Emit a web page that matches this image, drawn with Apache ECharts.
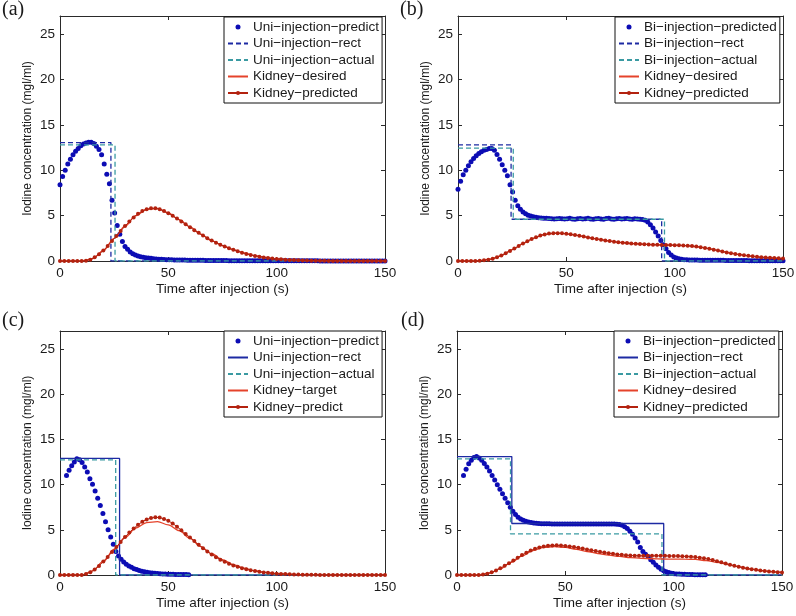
<!DOCTYPE html>
<html>
<head>
<meta charset="utf-8">
<script src="https://cdn.jsdelivr.net/npm/echarts@6/dist/echarts.min.js"></script>
<style>
html, body { margin: 0; padding: 0; background: #fff; }
#chart { width: 796px; height: 616px; }
</style>
</head>
<body>
<div id="chart"></div>
<script>
// ---- labels ----
var panelTags = ['(a)', '(b)', '(c)', '(d)'];
var predNames = ['Uni−injection−predict', 'Bi−injection−predicted', 'Uni−injection−predict', 'Bi−injection−predicted'];
var rectNames = ['Uni−injection−rect', 'Bi−injection−rect', 'Uni−injection−rect', 'Bi−injection−rect'];
var actNames = ['Uni−injection−actual', 'Bi−injection−actual', 'Uni−injection−actual', 'Bi−injection−actual'];
var desNames = ['Kidney−desired', 'Kidney−desired', 'Kidney−target', 'Kidney−desired'];
var kpNames = ['Kidney−predicted', 'Kidney−predicted', 'Kidney−predict', 'Kidney−predicted'];
var xName = 'Time after injection (s)';
var yName = 'Iodine concentration (mgl/ml)';
var xTicks = [0, 50, 100, 150];
var yTicks = [0, 5, 10, 15, 20, 25];

// ---- sampling (s) ----
var predStart = [0, 0, 3, 3];
var predStep = 1.2;
var kpStep = 2;
var desStep = 5;

// ---- injection predicted (blue dots) ----
var aPred = [8.4,9.3,10.0,10.7,11.2,11.7,12.1,12.4,12.7,12.9,
  13.0,13.1,13.1,12.95,12.65,12.3,11.7,10.7,9.55,8.5,
  6.7,5.3,3.9,2.95,2.15,1.6,1.3,1.0,0.8,0.67,
  0.56,0.48,0.42,0.37,0.33,0.29,0.25,0.22,0.2,0.18,
  0.16,0.15,0.14,0.13,0.12,0.12,0.11,0.1,0.1,0.09,
  0.09,0.08,0.08,0.07,0.07,0.07,0.06,0.06,0.06,0.05,
  0.05,0.05,0.05,0.05,0.05,0.04,0.04,0.04,0.04,0.04,
  0.04,0.04,0.03,0.03,0.03,0.03,0.03,0.03,0.03,0.03,
  0.02,0.02,0.02,0.02,0.02,0.02,0.02,0.02,0.02,0.02,
  0.02,0.02,0.02,0.02,0.02,0.02,0.02,0.02,0.02,0.02,
  0.01,0.01,0.01,0.01,0.01,0.01,0.01,0.01,0.01,0.01,
  0.01,0.01,0.01,0.01,0.01,0.01,0.01,0.01,0.01,0.01,
  0.01,0.01,0.01,0.01,0.01,0.01];
var bPred = [7.9,8.8,9.5,10.0,10.5,10.95,11.3,11.6,11.85,12.05,
  12.2,12.3,12.4,12.4,12.2,11.75,11.2,10.6,10.0,9.4,
  8.4,7.6,6.7,6.1,5.7,5.4,5.2,5.05,4.95,4.88,
  4.82,4.78,4.75,4.72,4.7,
  4.68,4.66,4.64,4.66,4.69,4.65,4.62,4.66,4.7,4.64,4.6,4.65,4.68,4.63,4.66,4.7,4.62,4.6,4.66,
  4.69,4.64,4.61,4.67,4.7,4.63,4.6,4.65,4.68,4.62,4.66,4.69,4.64,4.61,4.65,4.63,4.6,4.58,
  4.5,4.3,4.0,3.65,3.2,2.75,2.25,1.8,1.35,0.95,0.65,0.45,0.32,0.24,0.18,0.15,0.13,0.12,0.11,
  0.1,0.1,0.09,0.09,0.09,0.08,0.08,0.08,0.07,0.07,0.07,0.07,0.06,0.06,0.06,0.06,0.05,0.05,
  0.05,0.05,0.05,0.04,0.04,0.04,0.04,0.04,0.04,0.03,0.03,0.03,0.03,0.03,0.03,0.03,0.03];
var cPred = [11.0,11.6,12.1,12.5,12.85,12.75,12.45,11.95,11.4,10.65,
  10.05,9.3,8.5,7.7,6.8,5.9,5.0,4.2,3.4,2.6,
  2.1,1.75,1.45,1.2,1.0,0.85,0.7,0.6,0.5,0.42,
  0.36,0.3,0.26,0.22,0.19,0.16,0.14,0.12,0.1,0.09,
  0.08,0.07,0.06,0.06,0.05,0.05,0.05,0.04];
var dPred = [11.0,11.7,12.3,12.7,13.0,13.1,12.95,12.7,12.35,11.95,
  11.5,11.0,10.5,10.0,9.5,9.0,8.5,8.0,7.5,7.05,
  6.7,6.4,6.2,6.05,5.95,5.87,5.8,5.75,5.72,5.7,
  5.68,5.67,5.66,5.66,5.65,5.65,5.65,5.64,5.64,5.64,
  5.64,5.64,5.64,5.64,5.64,5.64,5.64,5.64,5.64,5.64,
  5.64,5.64,5.64,5.64,5.64,5.64,5.63,5.63,5.63,5.62,
  5.6,5.5,5.35,5.15,4.85,4.5,4.1,3.65,3.05,2.6,
  2.3,2.05,1.7,1.4,1.1,0.85,0.65,0.48,0.36,0.27,
  0.2,0.15,0.12,0.1,0.08,0.07,0.06,0.05,0.05,0.04,
  0.04,0.03,0.03,0.03];

// ---- injection rect / actual (step profiles, [t, value]) ----
var aRect = [[0, 13.05], [23.5, 13.05], [23.5, 0], [150, 0]];
var aAct = [[0, 12.8], [25.4, 12.8], [25.4, 0], [150, 0]];
var bRect = [[0, 12.8], [24.5, 12.8], [24.5, 4.6], [94, 4.6], [94, 0], [150, 0]];
var bAct = [[0, 12.45], [25.5, 12.45], [25.5, 4.6], [95.3, 4.6], [95.3, 0], [150, 0]];
var cRect = [[0, 12.9], [27.5, 12.9], [27.5, 0], [150, 0]];
var cAct = [[0, 12.75], [25.7, 12.75], [25.7, 0], [150, 0]];
var dRect = [[0, 13.1], [25.3, 13.1], [25.3, 5.7], [95.4, 5.7], [95.4, 0], [150, 0]];
var dAct = [[0, 12.85], [24.7, 12.85], [24.7, 4.55], [94.6, 4.55], [94.6, 0], [150, 0]];

// ---- kidney desired (every 5 s) ----
var aDes = [0,0,0,0.25,1.15,2.5,3.85,5.0,5.7,5.8,5.3,4.55,3.75,2.95,2.25,1.7,1.25,0.88,0.6,0.4,0.25,0.15,0.09,0.05,0.03,0.01,0,0,0,0,0];
var bDes = [0,0,0.03,0.2,0.6,1.25,1.92,2.52,2.93,3.07,3.0,2.82,2.6,2.39,2.2,2.04,1.93,1.85,1.8,1.76,1.74,1.7,1.59,1.4,1.15,0.9,0.7,0.54,0.42,0.33,0.27];
var cDes = [0,0,0,0.45,1.5,2.85,4.15,5.2,5.8,5.9,5.55,4.9,4.05,3.15,2.35,1.7,1.15,0.75,0.47,0.28,0.16,0.09,0.05,0.02,0.01,0,0,0,0,0,0];
var dDes = [0,0,0,0.2,0.7,1.4,2.1,2.7,3.05,3.15,3.05,2.85,2.6,2.38,2.2,2.05,1.93,1.85,1.8,1.77,1.76,1.75,1.72,1.6,1.4,1.15,0.9,0.68,0.5,0.37,0.28];

// ---- kidney predicted (every 2 s) ----
var aKp = [0,0,0,0,0,0,
  0.03,0.15,0.4,0.75,1.15,1.65,2.2,2.75,3.3,3.85,
  4.35,4.8,5.2,5.5,5.7,5.8,5.8,5.7,5.5,5.25,
  4.98,4.68,4.36,4.04,3.72,3.4,3.1,2.8,2.52,2.26,
  2.02,1.8,1.6,1.41,1.24,1.08,0.92,0.78,0.66,0.56,
  0.47,0.39,0.32,0.27,0.22,0.18,0.15,0.12,0.1,0.08,
  0.06,0.05,0.04,0.03,0.02,0.02,0.01,0.01,
  0,0,0,0,0,0,0,0,0,0,0,0];
var bKp = [0,0,0,0,0,
  0.03,0.08,0.15,0.25,0.4,0.6,0.85,1.1,1.37,1.65,
  1.92,2.18,2.42,2.62,2.8,2.93,3.02,3.06,3.07,3.05,
  3.0,2.94,2.86,2.78,2.69,2.6,2.51,2.43,2.35,2.27,
  2.2,2.13,2.07,2.02,1.97,1.93,1.9,1.87,1.84,1.82,
  1.8,1.78,1.77,1.76,1.75,1.74,1.73,1.71,1.68,1.64,
  1.59,1.52,1.44,1.35,1.25,1.15,1.05,0.95,0.85,0.77,
  0.7,0.63,0.57,0.51,0.46,0.42,0.38,0.35,0.32,0.29,0.27];
var cKp = [0,0,0,0,0,0,
  0.1,0.3,0.6,1.0,1.5,2.0,2.55,3.1,3.65,4.2,
  4.7,5.15,5.55,5.9,6.15,6.3,6.38,6.35,6.2,6.0,
  5.7,5.35,4.95,4.55,4.15,3.75,3.35,2.97,2.6,2.27,
  1.97,1.7,1.46,1.25,1.06,0.9,0.76,0.64,0.53,0.44,
  0.36,0.29,0.24,0.19,0.15,0.12,0.1,0.08,0.06,0.05,
  0.04,0.03,0.02,0.02,0.01,
  0,0,0,0,0,0,0,0,0,0,0,0,0,0,0];
var dKp = [0,0,0,0,0,0,
  0.05,0.15,0.3,0.5,0.75,1.02,1.3,1.6,1.9,2.2,
  2.47,2.7,2.9,3.05,3.16,3.23,3.27,3.28,3.26,3.22,
  3.16,3.09,3.01,2.92,2.83,2.74,2.65,2.56,2.48,2.41,
  2.34,2.28,2.23,2.19,2.16,2.14,2.13,2.12,2.12,2.12,
  2.12,2.12,2.12,2.11,2.1,2.09,2.07,2.05,2.02,1.98,
  1.92,1.85,1.76,1.65,1.53,1.4,1.27,1.14,1.02,0.91,
  0.81,0.72,0.64,0.57,0.5,0.45,0.4,0.35,0.31,0.27];

var preds = [aPred, bPred, cPred, dPred];
var rects = [aRect, bRect, cRect, dRect];
var acts = [aAct, bAct, cAct, dAct];
var dess = [aDes, bDes, cDes, dDes];
var kps = [aKp, bKp, cKp, dKp];

// pair sample values with their time stamps
function seq(start, step, vals) {
  return vals.map(function (v, i) { return [+(start + i * step).toFixed(2), v]; });
}

var FONT = "'Liberation Sans', Arial, Helvetica, sans-serif";
var INK = '#1a1a1a';
var AX = '#2a2a2a';
var BLUE = '#0c0cb4';
var RECT = '#1d2aa3';
var TEAL = '#3a9aa2';
var RED = '#e5432b';
var DRED = '#b3220f';

// layout: [left, top, width, height]
var boxes = [[60, 16, 325, 245], [458, 16, 325, 245], [60, 331, 325, 244], [457, 331, 325, 244]];
var legendPos = [[224, 17], [615, 17], [224, 331], [614, 331]];
var tagPos = [[2, 0], [400, 0], [2, 311], [401, 311]];
var rectDashed = [true, true, false, false];

var grids = [], xAxes = [], yAxes = [], series = [], legends = [], titles = [];

boxes.forEach(function (b, i) {
  grids.push({ left: b[0], top: b[1], width: b[2], height: b[3], outerBoundsMode: 'none', containLabel: false });

  var lineCommon = { show: true, onZero: false, lineStyle: { color: AX, width: 1 } };
  var tickCommon = { show: true, inside: true, length: 4, lineStyle: { color: AX, width: 1 } };

  xAxes.push({
    type: 'value', gridIndex: i, position: 'bottom',
    min: xTicks[0], max: xTicks[xTicks.length - 1], interval: xTicks[1] - xTicks[0],
    name: xName, nameLocation: 'middle', nameGap: 21,
    nameTextStyle: { fontSize: 13.5, color: INK, fontFamily: FONT },
    axisLine: lineCommon, axisTick: tickCommon,
    axisLabel: { fontSize: 13.5, color: INK, margin: 5, fontFamily: FONT },
    splitLine: { show: false }
  });
  yAxes.push({
    type: 'value', gridIndex: i, position: 'left',
    min: yTicks[0], max: 27, interval: yTicks[1] - yTicks[0],
    name: yName, nameLocation: 'middle', nameGap: 26,
    nameTextStyle: { fontSize: 12, color: INK, fontFamily: FONT },
    axisLine: lineCommon, axisTick: tickCommon,
    axisLabel: { fontSize: 13.5, color: INK, margin: 5, fontFamily: FONT, showMaxLabel: false },
    splitLine: { show: false }
  });
});
// frame axes (top / right) with inward ticks
boxes.forEach(function (b, i) {
  xAxes.push({
    type: 'value', gridIndex: i, position: 'top',
    min: xTicks[0], max: xTicks[xTicks.length - 1], interval: xTicks[1] - xTicks[0],
    axisLine: { show: true, onZero: false, lineStyle: { color: AX, width: 1 } },
    axisTick: { show: true, inside: true, length: 4, lineStyle: { color: AX } },
    axisLabel: { show: false }, splitLine: { show: false }
  });
  yAxes.push({
    type: 'value', gridIndex: i, position: 'right',
    min: yTicks[0], max: 27, interval: yTicks[1] - yTicks[0],
    axisLine: { show: true, onZero: false, lineStyle: { color: AX, width: 1 } },
    axisTick: { show: true, inside: true, length: 4, lineStyle: { color: AX } },
    axisLabel: { show: false }, splitLine: { show: false }
  });
});

boxes.forEach(function (b, i) {
  var key = 'p' + i + '|';
  series.push({
    name: key + predNames[i], type: 'scatter', xAxisIndex: i, yAxisIndex: i,
    data: seq(predStart[i], predStep, preds[i]),
    symbol: 'circle', symbolSize: 5, itemStyle: { color: BLUE, opacity: 1 }, z: 2
  });
  series.push({
    name: key + rectNames[i], type: 'line', xAxisIndex: i, yAxisIndex: i,
    data: rects[i], symbol: 'none',
    lineStyle: { color: RECT, width: 1.3, type: rectDashed[i] ? [5, 3] : 'solid' },
    itemStyle: { color: RECT }, z: 3
  });
  series.push({
    name: key + actNames[i], type: 'line', xAxisIndex: i, yAxisIndex: i,
    data: acts[i], symbol: 'none',
    lineStyle: { color: TEAL, width: 1.3, type: [5, 3] },
    itemStyle: { color: TEAL }, z: 3
  });
  series.push({
    name: key + desNames[i], type: 'line', xAxisIndex: i, yAxisIndex: i,
    data: seq(0, desStep, dess[i]), symbol: 'none', smooth: 0.35, smoothMonotone: 'x',
    lineStyle: { color: RED, width: 1.3 }, itemStyle: { color: RED }, z: 4
  });
  series.push({
    name: key + kpNames[i], type: 'line', xAxisIndex: i, yAxisIndex: i,
    data: seq(0, kpStep, kps[i]), symbol: 'circle', symbolSize: 4, showSymbol: true,
    lineStyle: { color: DRED, width: 1 }, itemStyle: { color: DRED, opacity: 1 }, z: 5
  });

  legends.push({
    left: legendPos[i][0], top: legendPos[i][1], orient: 'vertical', align: 'left',
    data: [
      { name: key + predNames[i] },
      { name: key + rectNames[i], itemStyle: { opacity: 0 } },
      { name: key + actNames[i], itemStyle: { opacity: 0 } },
      { name: key + desNames[i], itemStyle: { opacity: 0 } },
      { name: key + kpNames[i] }
    ],
    formatter: function (n) { return n.split('|')[1]; },
    itemWidth: 20, itemHeight: 5, itemGap: 2.5, padding: [3, 3, 3, 3],
    borderColor: '#111', borderWidth: 1, backgroundColor: '#fff', borderRadius: 0,
    selectedMode: false,
    textStyle: { fontSize: 13.5, color: INK, fontFamily: FONT }
  });

  titles.push({
    text: panelTags[i], left: tagPos[i][0], top: tagPos[i][1], padding: 0,
    textStyle: { fontFamily: "'Liberation Serif', 'Times New Roman', serif", fontSize: 20, fontWeight: 'normal', color: INK }
  });
});

var chart = echarts.init(document.getElementById('chart'), null, { renderer: 'canvas' });
chart.setOption({
  animation: false,
  backgroundColor: '#fff',
  title: titles,
  legend: legends,
  grid: grids,
  xAxis: xAxes,
  yAxis: yAxes,
  series: series
});
</script>
</body>
</html>
